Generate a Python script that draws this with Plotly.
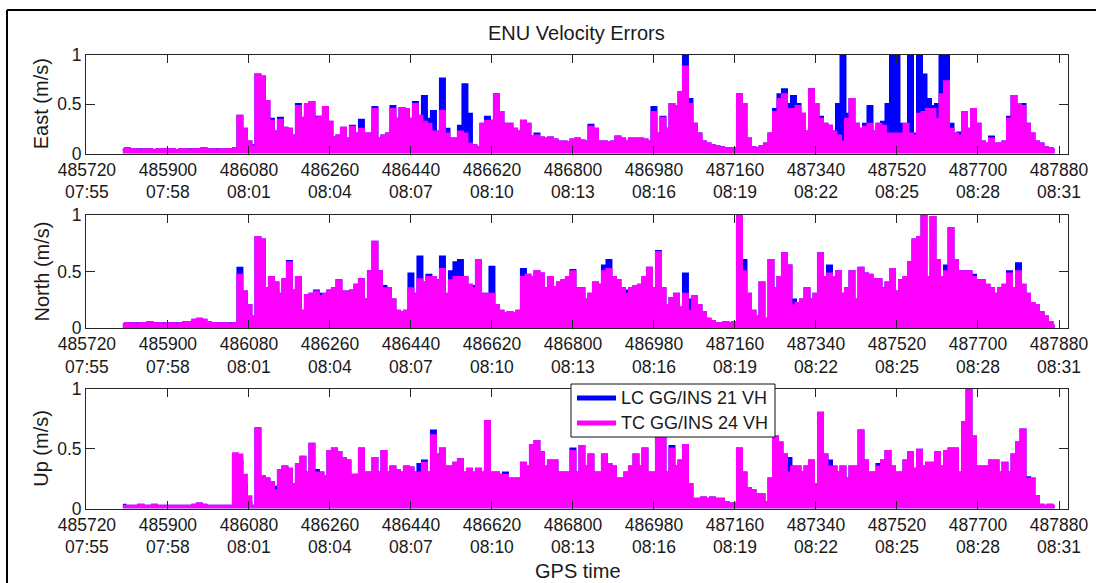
import plotly.graph_objects as go

# ---------------- data ----------------
t = list(range(485800, 487880, 10))  # GPS time (s), 10 s samples

east_tc = [0.04,0.05,0.04,0.04,0.03,0.04,0.04,0.03,0.04,0.04,
           0.04,0.04,0.03,0.04,0.04,0.03,0.04,0.04,0.05,0.04,0.04,0.03,0.04,0.04,0.04,0.05,0.38,0.25,
           0.12,0.07,0.80,0.78,0.53,0.33,0.22,0.34,0.26,0.25,0.18,0.48,0.36,0.50,0.52,0.36,0.37,0.47,
           0.32,0.16,0.18,0.26,0.15,0.27,0.20,0.25,0.20,0.20,0.45,0.15,0.18,0.20,0.45,0.35,0.46,0.45,
           0.35,0.50,0.38,0.32,0.30,0.22,0.22,0.43,0.20,0.15,0.15,0.22,0.20,0.10,0.08,0.06,0.30,0.33,
           0.33,0.60,0.42,0.30,0.30,0.25,0.22,0.33,0.30,0.17,0.18,0.16,0.15,0.16,0.14,0.12,0.12,0.11,
           0.14,0.15,0.13,0.12,0.27,0.25,0.12,0.12,0.11,0.12,0.17,0.15,0.12,0.15,0.15,0.15,0.14,0.12,
           0.42,0.20,0.36,0.25,0.50,0.48,0.62,0.88,0.50,0.30,0.20,0.12,0.10,0.08,0.07,0.06,0.05,0.05,
           0.05,0.60,0.50,0.15,0.06,0.05,0.07,0.10,0.20,0.42,0.55,0.60,0.45,0.45,0.48,0.40,0.22,0.65,
           0.50,0.35,0.30,0.28,0.22,0.18,0.12,0.35,0.55,0.30,0.25,0.27,0.30,0.22,0.30,0.28,0.20,0.20,
           0.20,0.20,0.30,0.20,0.18,0.40,0.42,0.45,0.45,0.35,0.60,0.73,0.25,0.20,0.18,0.42,0.25,0.45,
           0.30,0.12,0.10,0.15,0.10,0.10,0.12,0.35,0.58,0.50,0.48,0.30,0.20,0.12,0.10,0.06,0.05,0.04]

east_lc = [0.04,0.05,0.04,0.04,0.04,0.04,0.04,0.03,0.04,0.04,
           0.04,0.04,0.03,0.04,0.04,0.04,0.04,0.04,0.05,0.04,0.04,0.04,0.04,0.04,0.04,0.05,0.38,0.25,
           0.12,0.08,0.80,0.78,0.53,0.35,0.22,0.36,0.26,0.25,0.18,0.50,0.36,0.50,0.52,0.37,0.37,0.47,
           0.32,0.16,0.18,0.26,0.15,0.28,0.20,0.34,0.20,0.20,0.47,0.15,0.18,0.20,0.48,0.35,0.46,0.45,
           0.35,0.52,0.38,0.58,0.35,0.43,0.22,0.76,0.25,0.15,0.15,0.28,0.70,0.40,0.08,0.06,0.30,0.37,
           0.33,0.60,0.42,0.30,0.30,0.25,0.22,0.33,0.30,0.17,0.20,0.16,0.15,0.16,0.14,0.12,0.12,0.11,
           0.14,0.15,0.13,0.12,0.29,0.25,0.12,0.12,0.11,0.12,0.17,0.15,0.12,0.15,0.15,0.15,0.14,0.12,
           0.47,0.20,0.37,0.25,0.50,0.48,0.62,1.00,0.55,0.30,0.20,0.12,0.10,0.08,0.07,0.06,0.05,0.05,
           0.05,0.60,0.50,0.15,0.06,0.05,0.07,0.10,0.20,0.45,0.60,0.65,0.50,0.58,0.50,0.40,0.22,0.65,
           0.50,0.37,0.30,0.28,0.22,0.50,1.10,0.40,0.55,0.30,0.25,0.30,0.48,0.22,0.30,0.32,0.50,1.10,
           1.10,0.30,0.30,1.10,0.20,1.10,0.80,0.55,0.48,0.50,1.10,1.10,0.30,0.20,0.21,0.42,0.25,0.45,
           0.30,0.12,0.10,0.17,0.10,0.10,0.12,0.37,0.58,0.50,0.50,0.30,0.20,0.12,0.10,0.06,0.05,0.04]

north_tc = [0.03,0.04,0.04,0.03,0.04,0.04,0.05,0.04,0.04,0.03,
            0.04,0.04,0.03,0.04,0.05,0.05,0.07,0.08,0.07,0.05,0.04,0.04,0.04,0.04,0.03,0.04,0.47,0.32,
            0.20,0.10,0.80,0.78,0.35,0.45,0.40,0.30,0.43,0.58,0.33,0.45,0.15,0.29,0.30,0.32,0.28,0.30,
            0.33,0.35,0.42,0.32,0.32,0.33,0.38,0.43,0.25,0.50,0.76,0.50,0.35,0.35,0.25,0.15,0.14,0.15,
            0.35,0.30,0.43,0.40,0.45,0.45,0.42,0.52,0.30,0.42,0.45,0.45,0.45,0.38,0.35,0.60,0.30,0.30,
            0.30,0.20,0.15,0.13,0.14,0.13,0.15,0.45,0.47,0.45,0.50,0.48,0.35,0.45,0.36,0.40,0.42,0.45,
            0.50,0.35,0.35,0.25,0.30,0.40,0.38,0.50,0.52,0.45,0.42,0.35,0.30,0.35,0.37,0.38,0.45,0.53,
            0.35,0.67,0.35,0.20,0.26,0.30,0.18,0.30,0.15,0.28,0.20,0.14,0.08,0.06,0.04,0.04,0.05,0.04,
            0.05,1.00,0.50,0.30,0.15,0.10,0.40,0.08,0.60,0.35,0.45,0.66,0.55,0.20,0.22,0.25,0.35,0.25,
            0.30,0.66,0.45,0.48,0.45,0.50,0.30,0.35,0.50,0.25,0.53,0.48,0.47,0.43,0.43,0.35,0.40,0.52,
            0.32,0.42,0.45,0.58,0.78,0.80,1.05,0.45,0.98,0.60,0.45,0.50,0.88,0.60,0.50,0.50,0.50,0.45,
            0.42,0.42,0.38,0.35,0.30,0.35,0.38,0.48,0.35,0.50,0.38,0.30,0.22,0.20,0.14,0.10,0.05,0.02]

north_lc = [0.03,0.04,0.04,0.04,0.04,0.04,0.05,0.04,0.04,0.04,
            0.04,0.04,0.04,0.04,0.05,0.05,0.07,0.08,0.07,0.05,0.04,0.04,0.04,0.04,0.04,0.04,0.53,0.32,
            0.20,0.10,0.80,0.78,0.35,0.45,0.40,0.30,0.43,0.59,0.33,0.45,0.15,0.29,0.30,0.33,0.30,0.30,
            0.33,0.35,0.42,0.32,0.32,0.33,0.38,0.43,0.25,0.50,0.76,0.50,0.37,0.35,0.25,0.15,0.14,0.15,
            0.48,0.30,0.63,0.40,0.47,0.45,0.42,0.63,0.30,0.50,0.58,0.60,0.45,0.38,0.37,0.60,0.30,0.30,
            0.54,0.20,0.15,0.13,0.14,0.13,0.15,0.52,0.47,0.45,0.50,0.48,0.35,0.45,0.36,0.40,0.42,0.45,
            0.51,0.35,0.35,0.25,0.30,0.40,0.38,0.55,0.60,0.45,0.42,0.35,0.33,0.35,0.37,0.38,0.45,0.53,
            0.35,0.68,0.35,0.20,0.26,0.30,0.18,0.48,0.25,0.28,0.20,0.14,0.08,0.06,0.04,0.04,0.05,0.04,
            0.05,1.00,0.60,0.30,0.15,0.10,0.40,0.08,0.60,0.35,0.45,0.66,0.55,0.25,0.22,0.25,0.35,0.25,
            0.30,0.66,0.45,0.55,0.45,0.50,0.30,0.35,0.50,0.25,0.53,0.48,0.47,0.43,0.43,0.35,0.40,0.52,
            0.32,0.42,0.45,0.58,0.78,0.80,1.05,0.45,0.98,0.60,0.45,0.55,0.88,0.60,0.50,0.50,0.50,0.47,
            0.42,0.42,0.38,0.35,0.30,0.35,0.38,0.50,0.35,0.57,0.38,0.30,0.22,0.20,0.14,0.10,0.05,0.02]

up_tc = [0.02,0.02,0.02,0.02,0.03,0.02,0.02,0.03,0.02,0.02,
         0.02,0.02,0.02,0.02,0.02,0.02,0.03,0.04,0.03,0.02,0.02,0.02,0.02,0.02,0.02,0.46,0.45,0.28,
         0.10,0.02,0.67,0.27,0.25,0.22,0.15,0.32,0.35,0.33,0.20,0.37,0.43,0.30,0.54,0.30,0.30,0.27,
         0.48,0.50,0.47,0.42,0.40,0.28,0.28,0.50,0.30,0.30,0.42,0.30,0.48,0.30,0.35,0.32,0.30,0.35,
         0.34,0.30,0.30,0.38,0.30,0.61,0.45,0.50,0.35,0.35,0.38,0.41,0.30,0.33,0.30,0.33,0.30,0.73,
         0.30,0.30,0.28,0.28,0.25,0.25,0.25,0.38,0.35,0.53,0.56,0.47,0.35,0.40,0.40,0.30,0.30,0.30,
         0.48,0.30,0.52,0.35,0.45,0.30,0.30,0.45,0.37,0.35,0.25,0.25,0.30,0.35,0.45,0.35,0.50,0.30,
         0.30,0.63,0.70,0.30,0.50,0.35,0.40,0.53,0.20,0.08,0.08,0.09,0.08,0.09,0.08,0.08,0.05,0.04,
         0.04,0.50,0.30,0.17,0.15,0.12,0.12,0.05,0.25,0.60,0.55,0.45,0.30,0.35,0.35,0.30,0.35,0.40,
         0.20,0.80,0.45,0.35,0.35,0.30,0.35,0.25,0.35,0.35,0.65,0.40,0.30,0.30,0.35,0.40,0.48,0.35,
         0.30,0.30,0.40,0.47,0.33,0.49,0.35,0.38,0.38,0.47,0.35,0.48,0.50,0.50,0.30,0.72,1.00,0.60,
         0.35,0.35,0.35,0.40,0.40,0.30,0.38,0.30,0.45,0.55,0.66,0.25,0.25,0.10,0.03,0.02,0.03,0.02]

up_lc = [0.03,0.02,0.02,0.02,0.03,0.02,0.02,0.03,0.02,0.02,
         0.02,0.02,0.02,0.02,0.02,0.02,0.03,0.04,0.03,0.02,0.02,0.02,0.02,0.02,0.02,0.44,0.40,0.20,
         0.05,0.02,0.67,0.27,0.25,0.22,0.18,0.32,0.35,0.33,0.20,0.37,0.43,0.30,0.54,0.32,0.30,0.27,
         0.48,0.50,0.47,0.42,0.40,0.28,0.28,0.50,0.30,0.30,0.42,0.30,0.48,0.30,0.35,0.32,0.30,0.35,
         0.34,0.30,0.37,0.40,0.30,0.65,0.45,0.50,0.35,0.35,0.38,0.41,0.30,0.33,0.30,0.33,0.30,0.73,
         0.30,0.30,0.28,0.30,0.25,0.25,0.25,0.38,0.35,0.53,0.56,0.47,0.35,0.40,0.40,0.30,0.30,0.30,
         0.50,0.30,0.52,0.35,0.45,0.30,0.30,0.45,0.37,0.35,0.25,0.25,0.30,0.35,0.45,0.35,0.50,0.30,
         0.30,0.63,0.70,0.30,0.52,0.35,0.40,0.53,0.20,0.08,0.08,0.09,0.08,0.09,0.08,0.08,0.05,0.04,
         0.04,0.50,0.30,0.17,0.15,0.12,0.12,0.05,0.25,0.60,0.55,0.45,0.42,0.35,0.35,0.30,0.35,0.40,
         0.20,0.80,0.45,0.40,0.35,0.30,0.35,0.25,0.35,0.35,0.65,0.40,0.30,0.30,0.37,0.40,0.48,0.35,
         0.30,0.30,0.40,0.47,0.33,0.49,0.35,0.38,0.38,0.47,0.35,0.48,0.50,0.50,0.30,0.72,1.00,0.60,
         0.35,0.35,0.35,0.40,0.40,0.30,0.38,0.30,0.45,0.55,0.66,0.26,0.25,0.10,0.03,0.02,0.03,0.02]

x_tickvals = [485720, 485900, 486080, 486260, 486440, 486620, 486800,
              486980, 487160, 487340, 487520, 487700, 487880]
x_clock = ["07:55", "07:58", "08:01", "08:04", "08:07", "08:10", "08:13",
           "08:16", "08:19", "08:22", "08:25", "08:28", "08:31"]
y_tickvals = [0, 0.5, 1]
y_ticktext = ["0", "0.5", "1"]

panel_names = ["East (m/s)", "North (m/s)", "Up (m/s)"]
series_lc = [east_lc, north_lc, up_lc]
series_tc = [east_tc, north_tc, up_tc]
series_names = ["LC GG/INS 21 VH", "TC GG/INS 24 VH"]

for s in series_lc + series_tc:
    assert len(s) == len(t), len(s)

# ---------------- layout constants ----------------
W, H = 1096, 583
FONT = "Arial, Liberation Sans, Helvetica, sans-serif"
BLUE = "#0000FF"
MAGENTA = "#FF00FF"
AX = "#262626"
TXT = "#1a1a1a"

x_dom = [86 / W, 1068 / W]
y_px = [(55, 153.5), (215, 328), (389, 508.5)]  # top, bottom in pixels


def px_x(p):
    return p / W


def px_y(p):
    return 1 - p / H


fig = go.Figure()

for i in range(3):
    xa = "x" if i == 0 else f"x{i+1}"
    ya = "y" if i == 0 else f"y{i+1}"
    for vals, col, nm in ((series_lc[i], BLUE, series_names[0]),
                          (series_tc[i], MAGENTA, series_names[1])):
        fig.add_trace(go.Scatter(
            x=t, y=vals, xaxis=xa, yaxis=ya, mode="lines", name=nm,
            line=dict(color=col, width=2.5, shape="hvh"),
            fill="tozeroy", fillcolor=col, showlegend=False,
            hoverinfo="skip"))

ticktext = [f"{v}<br>{c}" for v, c in zip(x_tickvals, x_clock)]

layout = dict(
    width=W, height=H, autosize=False,
    margin=dict(l=0, r=0, t=0, b=0, pad=0, autoexpand=False),
    paper_bgcolor="white", plot_bgcolor="white",
    font=dict(family=FONT, size=17.5, color=TXT),
    showlegend=False,
)

for i in range(3):
    top, bot = y_px[i]
    xk = "xaxis" if i == 0 else f"xaxis{i+1}"
    yk = "yaxis" if i == 0 else f"yaxis{i+1}"
    ya = "y" if i == 0 else f"y{i+1}"
    xa = "x" if i == 0 else f"x{i+1}"
    layout[xk] = dict(
        domain=x_dom, anchor=ya, range=[485718, 487900], automargin=False,
        tickmode="array", tickvals=x_tickvals, ticktext=ticktext,
        ticks="inside", ticklen=8, tickwidth=1, tickcolor=AX,
        showline=True, linecolor=AX, linewidth=1, mirror="ticks",
        showgrid=False, zeroline=False,
        tickfont=dict(family=FONT, size=17.5, color=TXT),
    )
    layout[yk] = dict(
        domain=[px_y(bot), px_y(top)], anchor=xa, range=[0, 1], automargin=False,
        tickmode="array", tickvals=y_tickvals, ticktext=y_ticktext,
        ticks="inside", ticklen=9, tickwidth=1, tickcolor=AX,
        showline=True, linecolor=AX, linewidth=1, mirror="ticks",
        showgrid=False, zeroline=False,
        tickfont=dict(family=FONT, size=17.5, color=TXT),
    )

fig.update_layout(**layout)

annotations = [
    dict(text="ENU Velocity Errors", x=px_x(576), y=px_y(33), xref="paper", yref="paper",
         showarrow=False, xanchor="center", yanchor="middle",
         font=dict(family=FONT, size=20, color=TXT)),
    dict(text="GPS time", x=px_x(578), y=px_y(571), xref="paper", yref="paper",
         showarrow=False, xanchor="center", yanchor="middle",
         font=dict(family=FONT, size=20, color=TXT)),
]
for i in range(3):
    top, bot = y_px[i]
    annotations.append(dict(
        text=panel_names[i], x=px_x(41), y=px_y((top + bot) / 2),
        xref="paper", yref="paper", showarrow=False, textangle=-90,
        xanchor="center", yanchor="middle",
        font=dict(family=FONT, size=20, color=TXT)))

# legend (MATLAB-style box inside the Up panel)
leg_box = (571, 384, 775, 437)
leg_rows = [(398, BLUE, series_names[0]), (423, MAGENTA, series_names[1])]
shapes = [
    dict(type="rect", xref="paper", yref="paper", layer="above",
         x0=px_x(leg_box[0]), x1=px_x(leg_box[2]),
         y0=px_y(leg_box[3]), y1=px_y(leg_box[1]),
         fillcolor="white", line=dict(color="#111111", width=1)),
]
for yrow, col, nm in leg_rows:
    shapes.append(dict(type="line", xref="paper", yref="paper", layer="above",
                       x0=px_x(577), x1=px_x(616), y0=px_y(yrow), y1=px_y(yrow),
                       line=dict(color=col, width=5)))
    annotations.append(dict(text=nm, x=px_x(619), y=px_y(yrow), xref="paper", yref="paper",
                            showarrow=False, xanchor="left", yanchor="middle",
                            font=dict(family=FONT, size=18, color=TXT)))

# outer frame (left and top edges of the figure border)
shapes.append(dict(type="line", xref="paper", yref="paper",
                   x0=px_x(7), x1=px_x(7), y0=0, y1=px_y(10),
                   line=dict(color="black", width=2)))
shapes.append(dict(type="line", xref="paper", yref="paper",
                   x0=px_x(7), x1=1, y0=px_y(10), y1=px_y(10),
                   line=dict(color="black", width=2)))

fig.update_layout(annotations=annotations, shapes=shapes)

fig.write_html("out.html")
